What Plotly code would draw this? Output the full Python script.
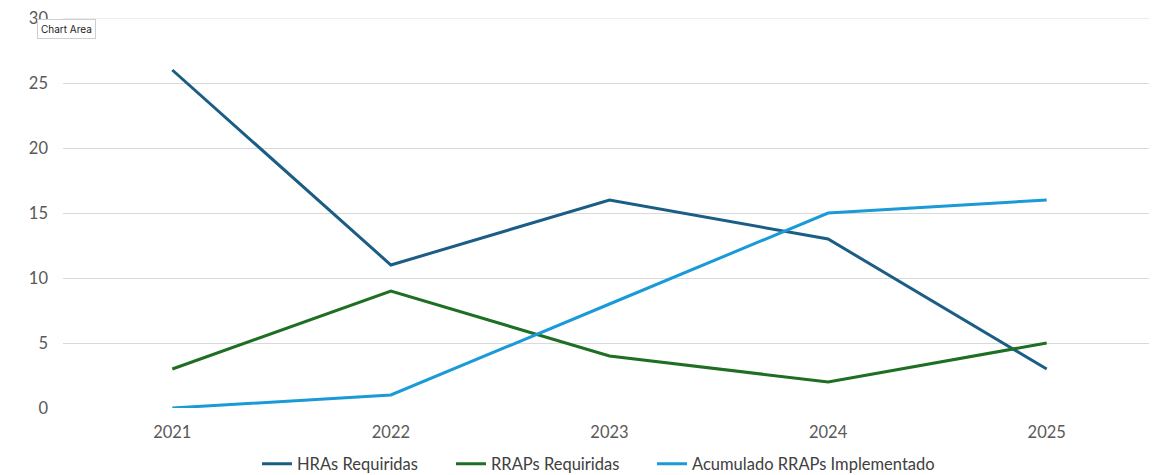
import plotly.graph_objects as go

years = ["2021", "2022", "2023", "2024", "2025"]
hras_requiridas = [26, 11, 16, 13, 3]
rraps_requiridas = [3, 9, 4, 2, 5]
acumulado_rraps = [0, 1, 8, 15, 16]
y_ticks = [0, 5, 10, 15, 20, 25, 30]

series = [
    ("HRAs Requiridas", hras_requiridas, "#1B5E85"),
    ("RRAPs Requiridas", rraps_requiridas, "#1E6E23"),
    ("Acumulado RRAPs Implementado", acumulado_rraps, "#1A9AD6"),
]

# page body has an 8px margin; work in figure coordinates = page - 8
OFF = 8
W, H = 1157 - OFF, 475 - OFF
ml, mr, mt, mb = 63 - OFF, 1, 18 - OFF, 475 - 408
pw = W - ml - mr
ph = H - mt - mb

legend_names = ["legend", "legend2", "legend3"]
legend_text_px = [297, 491, 692]  # page px where legend text starts

fig = go.Figure()
for (name, vals, color), lg in zip(series, legend_names):
    fig.add_trace(go.Scatter(x=years, y=vals, name=name, mode="lines",
                             line=dict(color=color, width=3), legend=lg))

legend_common = dict(orientation="h", yanchor="middle", y=-(464 - 408) / ph,
                     xanchor="left", font=dict(size=16.5, color="#404040"),
                     bgcolor="rgba(0,0,0,0)", itemwidth=30)

layout_legends = {}
for lg, tx in zip(legend_names, legend_text_px):
    layout_legends[lg] = dict(legend_common, x=(tx - OFF - 40 - ml) / pw)

# top gridline (plotly drops the gridline sitting on the range edge)
fig.add_shape(type="line", xref="paper", yref="y", x0=0, x1=1,
              y0=y_ticks[-1], y1=y_ticks[-1], line=dict(color="#D9D9D9", width=1),
              layer="below")

fig.update_layout(
    width=W, height=H,
    margin=dict(l=ml, r=mr, t=mt, b=mb, autoexpand=False),
    paper_bgcolor="white", plot_bgcolor="white",
    font=dict(family="Lato, Carlito, sans-serif", color="#595959", size=16),
    showlegend=True,
    xaxis=dict(type="category", range=[-0.5, 4.5], showgrid=False, zeroline=False,
               showline=False, ticks="", ticklabelstandoff=12, automargin=False,
               ticklabeloverflow="allow",
               tickfont=dict(size=16.5, color="#595959")),
    yaxis=dict(range=[0, 30], tickvals=y_ticks, showgrid=True,
               gridcolor="#D9D9D9", gridwidth=1,
               zeroline=False, showline=False, ticks="", ticklabelstandoff=14,
               automargin=False, ticklabeloverflow="allow",
               tickfont=dict(size=16.5, color="#595959")),
    annotations=[dict(text="Chart Area", xref="paper", yref="paper",
                      x=(37 - OFF - ml) / pw, y=1 - (19 - OFF - mt) / ph,
                      xanchor="left", yanchor="top", showarrow=False,
                      font=dict(size=10, color="#222222", family="Inter, sans-serif"),
                      bgcolor="white", bordercolor="#CFCFCF", borderwidth=1, borderpad=3)],
    **layout_legends,
)

fig.write_html("out.html")
